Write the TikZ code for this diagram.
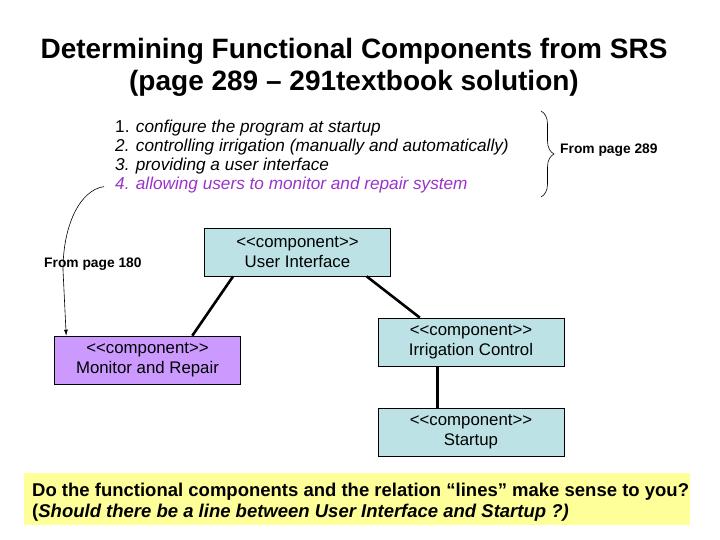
\documentclass[tikz,border=0pt]{standalone}
\usepackage{fontspec}
\setmainfont{Liberation Sans}[Ligatures=TeXOff]
\usepackage{xcolor}
\usetikzlibrary{positioning,arrows.meta,calc,decorations.pathreplacing}
\definecolor{cmpfill}{HTML}{BCE2E6}
\definecolor{mrfill}{HTML}{CC99FF}
\definecolor{notefill}{HTML}{FFFF99}
\definecolor{itemline}{HTML}{9933CC}
\newcommand{\ttlf}{\fontsize{28}{32}\selectfont\bfseries}
\newcommand{\lst}{\fontsize{17.2}{19}\selectfont\itshape}
\newcommand{\cmf}{\fontsize{16.8}{20}\selectfont}
\newcommand{\sml}{\fontsize{13.8}{15}\selectfont\bfseries}
\newcommand{\qst}{\fontsize{18.5}{21}\selectfont\bfseries}

\begin{document}
\begin{tikzpicture}[
  x=1pt, y=-1pt,
  cmp/.style={draw=black, line width=0.6pt, fill=cmpfill, align=center, font=\cmf,
              minimum width=186pt, minimum height=48pt, inner sep=0pt},
  mr/.style={cmp, fill=mrfill},
  ln/.style={line width=2.6pt, draw=black},
  arr/.style={-{Latex[length=6pt, width=4pt]}, line width=0.6pt, draw=black},
  li/.style={anchor=west, font=\lst, inner sep=0pt},
]
\useasboundingbox (0,0) rectangle (720,540);
% ---------------- title ----------------
\node[font=\ttlf, align=center] (ttl) at (354,67)
  {Determining Functional Components from SRS\\(page 289 – 291textbook solution)};
% ---------------- requirements list ----------------
\node[li] (l1) at (115,128) {\upshape 1. \itshape configure the program at startup};
\node[li] (l2) at (115,147) {2. controlling irrigation (manually and automatically)};
\node[li] (l3) at (115,166) {3. providing a user interface};
\node[li, text=itemline] (l4) at (115,185) {4. allowing users to monitor and repair system};
\coordinate (bt) at (541,111);
\coordinate (bb) at (541,197);
\draw[line width=0.6pt, decorate, decoration={brace, amplitude=13pt}] (bt) -- (bb);
\node[font=\sml, anchor=west, inner sep=0pt] (p289) at (560,150) {From page 289};
% ---------------- components ----------------
\node[cmp] (ui) at (297.5,252) {<<component>>\\User Interface};
\node[mr] (mrp) at (147.5,360) {<<component>>\\Monitor and Repair};
\node[cmp] (ic) at (471,342) {<<component>>\\Irrigation Control};
\node[cmp] (st) at (471,432) {<<component>>\\Startup};
\node[font=\sml, anchor=west, inner sep=0pt] (p180) at (44,264) {From page 180};
\draw[ln] ($(ui.south west)!0.155!(ui.south east)$) -- ($(mrp.north west)!0.74!(mrp.north east)$);
\draw[ln] ($(ui.south west)!0.87!(ui.south east)$) -- ($(ic.north west)!0.226!(ic.north east)$);
\draw[ln] ($(ic.south west)!0.32!(ic.south east)$) -- ($(st.north west)!0.32!(st.north east)$);
\draw[arr, shorten <=11pt] (l4.west) .. controls (80,190) and (63,225) .. (63,270)
  -- ($(mrp.north west)+(12,0)$);
% ---------------- question ----------------
\node[fill=notefill, draw=none, anchor=north west, minimum width=666pt, minimum height=52pt,
      inner sep=0pt] (q) at (24,473) {};
\node[font=\qst, anchor=north west, align=left, inner sep=0pt] (qt) at (32,483)
  {Do the functional components and the relation “lines” make sense to you?\\
   (\textit{Should there be a line between User Interface and Startup ?)}};
\end{tikzpicture}
\end{document}
